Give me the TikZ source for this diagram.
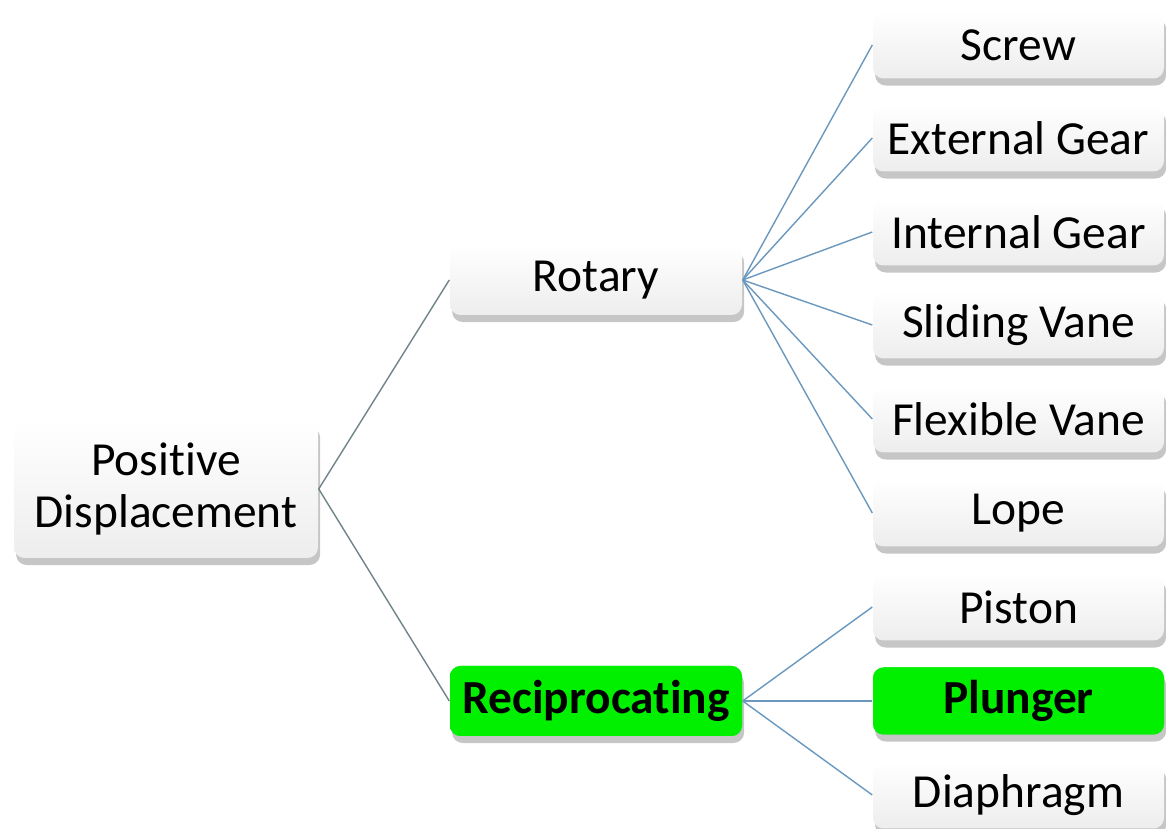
\documentclass[tikz,border=0pt]{standalone}
\usepackage{fontspec}
\setmainfont[Ligatures=NoCommon]{Carlito}
\usepackage{tikz}
\usetikzlibrary{shadows}
\usepackage{xcolor}
\definecolor{linkgrey}{HTML}{6F8489}
\definecolor{linkblue}{HTML}{6A98BF}
\definecolor{brightgreen}{HTML}{00F000}

\begin{document}
\begin{tikzpicture}[
    box/.style={draw=none, rectangle, rounded corners=3pt, align=center,
        top color=white, bottom color=gray!14,
        drop shadow={shadow xshift=0.6pt, shadow yshift=-2pt, opacity=0.45},
        font=\fontsize{13.5}{15}\selectfont},
    leaf/.style={box, minimum width=2.91cm, minimum height=0.67cm},
    mid/.style={box, minimum width=2.92cm, minimum height=0.70cm},
    pick/.style={fill=brightgreen, top color=brightgreen, bottom color=brightgreen, font=\fontsize{13.5}{15}\selectfont\bfseries}
]
            \useasboundingbox (0,0) rectangle (11.66,8.29);
            % Pump classification tree
            \node[box, minimum width=3.04cm, minimum height=1.38cm] (pd) at (1.66,3.40) {Positive\\Displacement};
            \node[mid] (rotary) at (5.96,5.49) {Rotary};
            \node[mid, pick] (recip) at (5.96,1.28) {Reciprocating};
            
            \node[leaf] (screw) at (10.185,7.84) {Screw};
            \node[leaf] (extgear) at (10.185,6.91) {External Gear};
            \node[leaf] (intgear) at (10.185,5.97) {Internal Gear};
            \node[leaf] (sliding) at (10.185,5.04) {Sliding Vane};
            \node[leaf] (flexible) at (10.185,4.10) {Flexible Vane};
            \node[leaf] (lope) at (10.185,3.16) {Lope};
            \node[leaf] (piston) at (10.185,2.22) {Piston};
            \node[leaf, pick] (plunger) at (10.185,1.28) {Plunger};
            \node[leaf] (diaphragm) at (10.185,0.34) {Diaphragm};
            
            \draw[linkgrey, thin] (pd.east) -- (rotary.west);
            \draw[linkgrey, thin] (pd.east) -- (recip.west);
            
            \foreach \n in {screw, extgear, intgear, sliding, flexible, lope}
                \draw[linkblue, thin] (rotary.east) -- (\n.west);
            \foreach \n in {piston, plunger, diaphragm}
                \draw[linkblue, thin] (recip.east) -- (\n.west);
        \end{tikzpicture}
\end{document}
